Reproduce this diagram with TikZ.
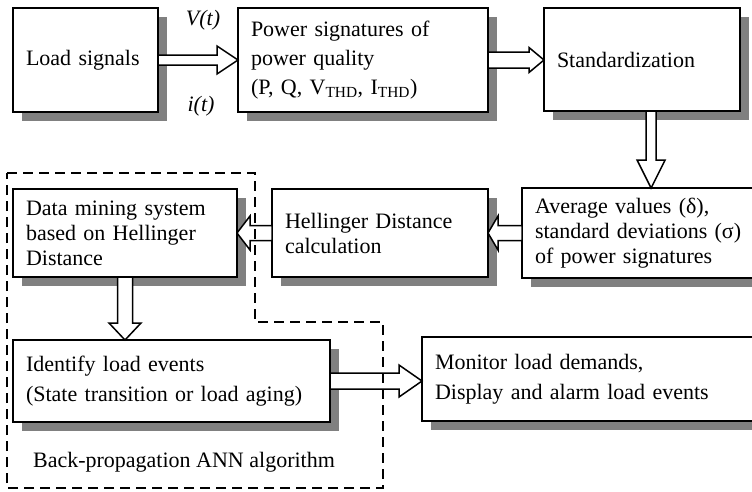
\documentclass[tikz,border=0pt]{standalone}
\usepackage{fontspec}
\setmainfont{Liberation Serif}
\usetikzlibrary{calc,shadows}
\tikzset{
	blk/.style={draw, line width=2pt, fill=white, anchor=north west, outer sep=0pt,
		inner xsep=13pt, inner ysep=0pt, align=left,
		drop shadow={shadow xshift=9pt, shadow yshift=-9pt, fill=black!50, opacity=1}},
	fat/.style n args={3}{draw, line width=1.5pt, fill=white, to path={
		($(\tikztostart)!#1!90:(\tikztotarget)$)
		-- ($($(\tikztotarget)!#3!(\tikztostart)$)!#1!90:(\tikztotarget)$)
		-- ($($(\tikztotarget)!#3!(\tikztostart)$)!#2!90:(\tikztotarget)$)
		-- (\tikztotarget)
		-- ($($(\tikztotarget)!#3!(\tikztostart)$)!#2!-90:(\tikztotarget)$)
		-- ($($(\tikztotarget)!#3!(\tikztostart)$)!#1!-90:(\tikztotarget)$)
		-- ($(\tikztostart)!#1!-90:(\tikztotarget)$)
		-- cycle}},
	frame/.style={draw, line width=1.5pt, dash pattern=on 10pt off 6pt}
}
\begin{document}
\begin{tikzpicture}[x=1pt, y=-1pt, font=\fontsize{22}{25}\selectfont]
		\useasboundingbox (0,0) rectangle (752,491);
		% top row
		\node[blk, text width=119pt, minimum height=104pt] (load) at (13,8) {Load signals};
		\node[blk, text width=224pt, minimum height=104pt, font=\fontsize{22}{29}\selectfont] (power) at (238,8)
			{Power signatures of\\power quality\\(P, Q, V\textsubscript{THD}, I\textsubscript{THD})};
		\node[blk, text width=170pt, minimum height=103pt] (std) at (544,8) {Standardization};
		% middle row
		\node[blk, text width=222pt, minimum height=90pt] (avg) at (522,188)
			{Average values (δ),\\standard deviations (σ)\\of power signatures};
		\node[blk, text width=190pt, minimum height=88pt] (hell) at (272,189) {Hellinger Distance\\calculation};
		\node[blk, text width=198pt, minimum height=88pt] (mine) at (13,189)
			{Data mining system\\based on Hellinger\\Distance};
		% bottom row
		\node[blk, text width=291pt, minimum height=82pt, font=\fontsize{22}{30}\selectfont] (iden) at (13,340)
			{Identify load events\\(State transition or load aging)};
		\node[blk, text width=332pt, minimum height=84pt, font=\fontsize{22}{30}\selectfont] (mon) at (422,337)
			{Monitor load demands,\\Display and alarm load events};
		\node (bp) at (184,462) {Back-propagation ANN algorithm};
		\node (vt) at (203,20) {\textit{V(t)}};
		\node (it) at (201,106) {\textit{i(t)}};
		% arrows
		\draw[fat={5pt}{14pt}{21pt}] (load.east) to (load.east -| power.west);
		\draw[fat={8pt}{12.5pt}{15pt}] (power.east) to (power.east -| std.west);
		\draw[fat={5pt}{14pt}{28pt}] (std.-80) to (std.-80 |- avg.north);
		\draw[fat={7.5pt}{17pt}{10pt}] (avg.west) to (avg.west -| hell.east);
		\draw[fat={7.5pt}{17pt}{13pt}] (hell.west) to (hell.west -| mine.east);
		\draw[fat={7.5pt}{16pt}{17pt}] (mine.south) to (mine.south |- iden.north);
		\draw[fat={8pt}{16pt}{23pt}] (iden.east) to (iden.east -| mon.west);
		% ANN part
		\draw[frame] (7,173) -- (255,173) -- (255,322) -- (383,322) -- (383,488) -- (7,488) -- cycle;
	\end{tikzpicture}
\end{document}
